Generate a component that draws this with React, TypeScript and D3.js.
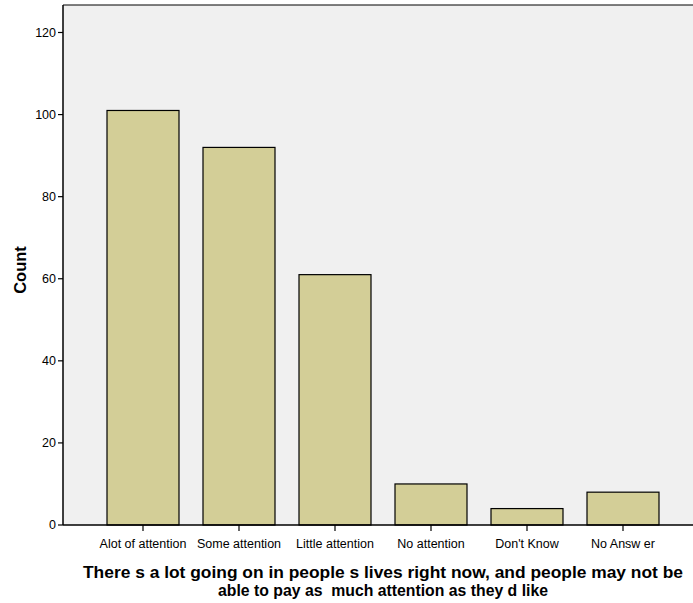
import React from "react";
import * as d3 from "d3";

const categories = ["Alot of attention", "Some attention", "Little attention", "No attention", "Don't Know", "No Answ er"];
const counts = [101, 92, 61, 10, 4, 8];
const yTicks = [0, 20, 40, 60, 80, 100, 120];
const titleLines = [
  "There s a lot going on in people s lives right now, and people may not be",
  "able to pay as  much attention as they d like",
];

export default function App() {
  const W = 693, H = 603;
  const left = 63, right = 693, top = 5, bottom = 525;
  const y = d3.scaleLinear().domain([0, 126.7]).range([bottom, top]);
  const x = d3.scaleBand<string>().domain(categories).range([95, 671]).paddingInner(0).paddingOuter(0);
  const bw = x.bandwidth() * 0.75;
  const font = "'Liberation Sans', Arial, sans-serif";
  const titleLens = [600, 330];
  return (
    <svg width={W} height={H} style={{ position: "absolute", left: 0, top: 0, background: "#fff" }} fontFamily={font}>
      <rect x={left} y={top} width={right - left} height={bottom - top} fill="#f0f0f0" />
      <line x1={left} x2={right} y1={top} y2={top} stroke="#000" strokeWidth={1} />
      {categories.map((c, i) => {
        const cx = x(c)! + x.bandwidth() / 2;
        return (
          <rect key={c} x={cx - bw / 2} y={y(counts[i])} width={bw} height={bottom - y(counts[i])}
            fill="#d3ce97" stroke="#000" strokeWidth={1.2} />
        );
      })}
      <line x1={left} x2={left} y1={top} y2={bottom} stroke="#000" strokeWidth={1.5} />
      <line x1={left} x2={right} y1={bottom} y2={bottom} stroke="#000" strokeWidth={1.5} />
      {yTicks.map((t) => (
        <g key={t}>
          <line x1={left - 5} x2={left} y1={y(t)} y2={y(t)} stroke="#000" strokeWidth={1.2} />
          <text x={left - 7} y={y(t)} dy="0.35em" textAnchor="end" fontSize={12.5} fill="#000">{t}</text>
        </g>
      ))}
      {categories.map((c) => {
        const cx = x(c)! + x.bandwidth() / 2;
        return (
          <g key={c}>
            <line x1={cx} x2={cx} y1={bottom} y2={bottom + 6} stroke="#000" strokeWidth={1.2} />
            <text x={cx} y={548} textAnchor="middle" fontSize={12.5} fill="#000">{c}</text>
          </g>
        );
      })}
      <text transform="translate(26,270) rotate(-90)" textAnchor="middle" fontSize={16.5} fontWeight="bold" fill="#000">Count</text>
      {titleLines.map((l, i) => (
        <text key={i} x={383} y={578 + i * 18} textAnchor="middle" fontSize={17} fontWeight="bold" fill="#000"
          textLength={titleLens[i]} lengthAdjust="spacingAndGlyphs" style={{ whiteSpace: "pre" }}>{l}</text>
      ))}
    </svg>
  );
}
